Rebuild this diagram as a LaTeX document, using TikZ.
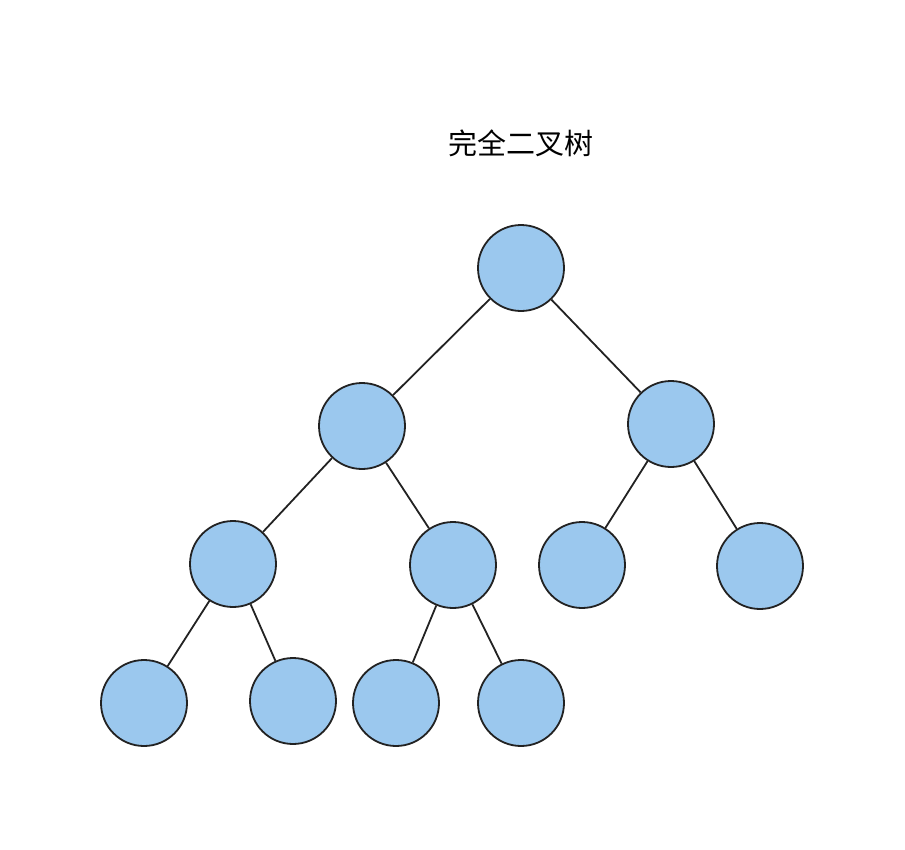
\documentclass[tikz,border=0pt]{standalone}
\usepackage{fontspec}
\newfontfamily\cjk{Noto Sans CJK SC}
\definecolor{nodefill}{HTML}{9BC8EE}
\definecolor{edge}{HTML}{222222}
\tikzset{tnode/.style={circle,draw=edge,fill=nodefill,line width=1.8pt,minimum size=86pt,inner sep=0pt},
  tedge/.style={draw=edge,line width=1.8pt}}
\begin{document}
\begin{tikzpicture}[x=1pt,y=-1pt]
\useasboundingbox (0,0) rectangle (905,849);
\node[font=\cjk\fontsize{29}{34}\selectfont] (t) at (521,143) {完全二叉树};
\node[tnode] (a) at (521,268) {};
\node[tnode] (b) at (362,426) {};
\node[tnode] (c) at (671,424) {};
\node[tnode] (d) at (233,564) {};
\node[tnode] (e) at (453,565) {};
\node[tnode] (f) at (582,565) {};
\node[tnode] (g) at (760,566) {};
\node[tnode] (h) at (144,703) {};
\node[tnode] (i) at (293,701) {};
\node[tnode] (j) at (396,703) {};
\node[tnode] (k) at (521,703) {};
\foreach \u/\v in {a/b,a/c,b/d,b/e,c/f,c/g,d/h,d/i,e/j,e/k}
  \path[tedge] (\u) -- (\v);
\end{tikzpicture}
\end{document}
